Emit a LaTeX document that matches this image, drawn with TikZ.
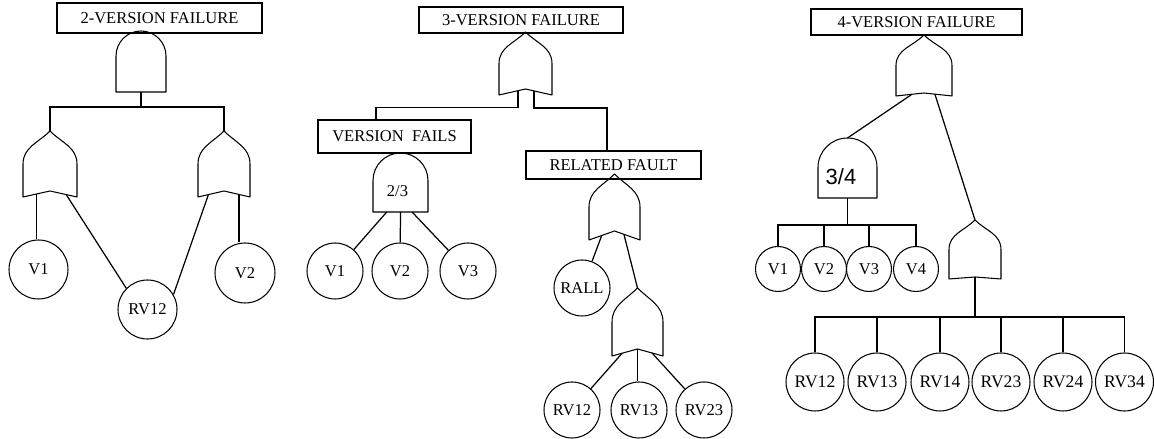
\documentclass[tikz,border=0pt]{standalone}
\usepackage{fontspec}
\setmainfont{Liberation Serif}
\newfontfamily\gatesans{Liberation Sans}
\usepackage{tikz}
\usetikzlibrary{calc}
\tikzset{
    eventbox/.style={draw, line width=0.8pt, inner sep=0pt, font=\fontsize{9.4}{11}\selectfont},
    basicevent/.style={draw, circle, line width=0.6pt, inner sep=0pt, font=\fontsize{9.4}{11}\selectfont},
    gatebox/.style={inner sep=0pt, outer sep=0pt},
    gateline/.style={line width=0.6pt, line join=round},
    faultlink/.style={line width=0.7pt}
}
% OR gate outline, optional arg = rise of the bottom centre
\newcommand{\drawor}[2][6]{%
    \path (#2.south) ++(0,#1) coordinate (#2-c);
    \draw[gateline] let \p1=(#2.south west), \p2=(#2.north east) in
        (#2.north) to[out=-135,in=90] (\x1,{0.5*(\y1+\y2)}) -- (\p1) -- (#2-c) -- (\x2,\y1)
        -- (\x2,{0.5*(\y1+\y2)}) to[out=90,in=-45] (#2.north) -- cycle;
}
% AND gate outline
\newcommand{\drawand}[1]{%
    \draw[gateline] let \p1=(#1.south west), \p2=(#1.north east), \n1={0.5*(\x2-\x1)} in
        (\p1) -- (\x1,{\y2-\n1}) arc[start angle=180, end angle=0, radius=\n1] -- (\x2,\y1) -- cycle;
}

\begin{document}
\begin{tikzpicture}[x=0.02cm, y=0.02cm]
    \useasboundingbox (0,0) rectangle (1154,439);

    % 2-version
    \node[eventbox, minimum width=4.1cm, minimum height=0.6cm] (topa) at (159.5,421) {2-VERSION FAILURE};
    \node[gatebox, minimum width=1.0cm, minimum height=1.22cm] (anda) at (141,377.5) {};
    \node[gatebox, minimum width=1.08cm, minimum height=1.32cm] (orala) at (50,275) {};
    \node[gatebox, minimum width=1.04cm, minimum height=1.32cm] (oralb) at (224,275) {};
    \node[basicevent, minimum size=1.18cm] (av1) at (38.5,169.5) {V1};
    \node[basicevent, minimum size=1.18cm] (arv12) at (147.5,129.5) {RV12};
    \node[basicevent, minimum size=1.2cm] (av2) at (245,166) {V2};

    % 3-version
    \node[eventbox, minimum width=4.08cm, minimum height=0.52cm] (topb) at (521,419) {3-VERSION FAILURE};
    \node[gatebox, minimum width=1.06cm, minimum height=1.26cm] (orb) at (525.5,375.5) {};
    \node[eventbox, minimum width=3.06cm, minimum height=0.66cm] (vfails) at (394.5,302.5) {VERSION\ \ FAILS};
    \node[gatebox, minimum width=1.1cm, minimum height=1.18cm] (andb) at (400.5,256.5) {};
    \node[font=\fontsize{9.4}{11}\selectfont] (kb) at ($(andb.center)+(-3,-8.5)$) {2/3};
    \node[basicevent, minimum size=1.12cm] (bv1) at (335,168) {V1};
    \node[basicevent, minimum size=1.12cm] (bv2) at (400,168) {V2};
    \node[basicevent, minimum size=1.12cm] (bv3) at (468,168) {V3};
    \node[eventbox, minimum width=3.5cm, minimum height=0.56cm] (relfault) at (613.5,274) {RELATED FAULT};
    \node[gatebox, minimum width=1.02cm, minimum height=1.32cm] (orrf) at (614.5,232) {};
    \node[basicevent, minimum size=1.12cm] (rall) at (582,151) {RALL};
    \node[gatebox, minimum width=1.02cm, minimum height=1.36cm] (orrv) at (637.5,117) {};
    \node[basicevent, minimum size=1.12cm] (brv12) at (572,29) {RV12};
    \node[basicevent, minimum size=1.12cm] (brv13) at (639,29) {RV13};
    \node[basicevent, minimum size=1.12cm] (brv23) at (704,29) {RV23};

    % 4-version
    \node[eventbox, minimum width=4.22cm, minimum height=0.52cm] (topc) at (916.5,417) {4-VERSION FAILURE};
    \node[gatebox, minimum width=1.12cm, minimum height=1.22cm] (orc) at (924,373.5) {};
    \node[gatebox, minimum width=1.18cm, minimum height=1.2cm] (andc) at (847.5,271) {};
    \node[font=\gatesans\fontsize{12.5}{14}\selectfont] (kc) at ($(andc.center)+(-6.5,-9)$) {3/4};
    \node[gatebox, minimum width=1.04cm, minimum height=1.18cm] (orcrv) at (975,189.5) {};
    \foreach \i/\x in {1/778, 2/824, 3/869, 4/916}
        \node[basicevent, minimum size=0.9cm] (cv\i) at (\x,170) {V\i};
    \foreach \n/\x in {12/815, 13/877, 14/940, 23/1001, 24/1063, 34/1124.5}
        \node[basicevent, minimum size=1.16cm, font=\fontsize{10}{12}\selectfont] (crv\n) at (\x,57) {RV\n};

    % gate outlines
    \drawand{anda}
    \drawor{orala}
    \drawor{oralb}
    \drawor{orb}
    \drawand{andb}
    \drawor[9]{orrf}
    \drawor[7]{orrv}
    \drawor[3]{orc}
    \drawand{andc}
    \drawor[2]{orcrv}

    % connectors, 2-version
    \draw[faultlink] (anda.south) -- ++(0,-15) coordinate (busa);
    \draw[faultlink] (orala.north) |- (busa) -| (oralb.north);
    \draw[faultlink] ($(orala.south west)!0.5!(orala-c)$) coordinate (qa) -- (qa |- av1.north);
    \draw[faultlink] ($(orala-c)!0.6!(orala.south east)$) -- (arv12.135);
    \draw[faultlink] ($(oralb.south west)!0.4!(oralb-c)$) -- (arv12.30);
    \draw[faultlink] ($(oralb-c)!0.58!(oralb.south east)$) coordinate (qb) -- (qb |- av2.north);

    % connectors, 3-version
    \draw[faultlink] ($(orb.south west)!0.72!(orb-c)$) -- ++(0,-17) -| ($(vfails.north west)!0.38!(vfails.north east)$);
    \draw[faultlink] ($(orb-c)!0.32!(orb.south east)$) -- ++(0,-17) -| ($(relfault.north west)!0.463!(relfault.north east)$);
    \draw[faultlink] ($(andb.south west)!0.25!(andb.south east)$) -- (bv1);
    \draw[faultlink] (andb.south) -- (bv2);
    \draw[faultlink] ($(andb.south west)!0.71!(andb.south east)$) -- (bv3);
    \draw[faultlink] ($(orrf.south west)!0.5!(orrf-c)$) -- (rall);
    \draw[faultlink] ($(orrf-c)!0.37!(orrf.south east)$) -- (orrv.north);
    \draw[faultlink] ($(orrv.south west)!0.4!(orrv-c)$) -- (brv12);
    \draw[faultlink] (orrv-c) -- (orrv-c |- brv13.north);
    \draw[faultlink] ($(orrv-c)!0.57!(orrv.south east)$) -- (brv23);

    % connectors, 4-version
    \draw[faultlink] ($(orc.south west)!0.57!(orc-c)$) -- (andc.north);
    \draw[faultlink] ($(orc-c)!0.39!(orc.south east)$) -- (orcrv.north);
    \draw[faultlink] (andc.south) -- ++(0,-27) coordinate (busc);
    \draw[faultlink] (cv1.north) |- (busc) -| (cv4.north);
    \draw[faultlink] (cv2.north) -- (cv2.north |- busc);
    \draw[faultlink] (cv3.north) -- (cv3.north |- busc);
    \draw[faultlink] (orcrv-c) -- ++(0,-40) coordinate (busd);
    \draw[faultlink] (crv12.north) |- (busd) -| (crv34.north);
    \foreach \n in {13, 14, 23, 24}
        \draw[faultlink] (crv\n.north) -- (crv\n.north |- busd);
\end{tikzpicture}
\end{document}
